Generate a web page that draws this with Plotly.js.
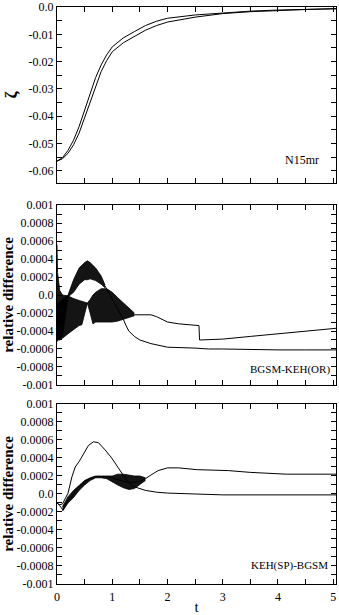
<!DOCTYPE html>
<html>
<head>
<meta charset="utf-8">
<script src="https://cdn.plot.ly/plotly-3.0.1.min.js"></script>
<style>
  html, body { margin: 0; padding: 0; background: #fff; }
  #chart { width: 339px; height: 615px; }
</style>
</head>
<body>
<div id="chart"></div>
<script>
/* ── Panel 1: zeta(t), two runs ─────────────────────────── */
const tZeta   = [0, 0.1, 0.2, 0.3, 0.4, 0.5, 0.6, 0.7, 0.8, 0.9, 1.0, 1.2, 1.4, 1.6, 1.8, 2.0, 2.5, 3.0, 3.5, 4.0, 4.5, 5.05];
const zetaA   = [-0.0565, -0.0552, -0.0525, -0.0488, -0.0438, -0.0376, -0.0315, -0.0258, -0.0212, -0.0175, -0.0146, -0.0113, -0.0090, -0.0068, -0.0052, -0.0041, -0.0029, -0.0021, -0.0015, -0.0011, -0.0008, -0.0006];
const zetaB   = [-0.0565, -0.0556, -0.0536, -0.0505, -0.0462, -0.0406, -0.0345, -0.0286, -0.0236, -0.0196, -0.0164, -0.0131, -0.0108, -0.0085, -0.0068, -0.0055, -0.0037, -0.0024, -0.0017, -0.0012, -0.0009, -0.0006];

/* ── Panel 2: BGSM-KEH(OR) ─────────────────────────────── */
// oscillating parts drawn as envelope bands
const tBandX  = [0, 0.1, 0.2, 0.3, 0.4, 0.5, 0.55, 0.6, 0.7, 0.8, 0.87];
const bandXHi = [-0.0001, -0.00005, 0.0, 0.00017, 0.0003, 0.00036, 0.00038, 0.00036, 0.0003, 0.00021, 0.00011];
const bandXLo = [-0.0005, -0.00045, -0.00002, 0.00003, 0.00012, 0.00017, 0.00017, 0.00018, 0.00016, 0.00012, 0.00008];
const tLineX  = [0.87, 0.94, 1.0, 1.1, 1.2, 1.25, 1.3, 1.4, 1.5, 1.7, 2.0, 2.5, 2.74, 3.0, 3.65, 4.0, 4.5, 5.05];
const lineX   = [0.0001, 0.00002, -0.00005, -0.00015, -0.00027, -0.00034, -0.0004, -0.00046, -0.0005, -0.00054, -0.00058, -0.00059, -0.0006, -0.0006, -0.00061, -0.00061, -0.00061, -0.00061];

const tBandY  = [0, 0.01, 0.05, 0.1, 0.2, 0.3, 0.4, 0.45, 0.5, 0.55, 0.6, 0.65, 0.7, 0.8, 0.9, 1.0, 1.1, 1.2, 1.3, 1.4];
const bandYHi = [0.00056, 0.00025, 0.00005, 0.0, -0.00001, -0.00004, -0.00006, -0.00007, -0.00008, -0.00009, -0.00005, 0.0, 0.00003, 0.00007, 0.00007, 0.00003, -0.00003, -0.00009, -0.00015, -0.0002];
const bandYLo = [-0.00052, -0.0005, -0.0005, -0.00048, -0.00043, -0.00038, -0.00034, -0.00033, -0.0002, -0.00009, -0.0002, -0.00032, -0.0003, -0.0003, -0.0003, -0.0003, -0.00029, -0.00027, -0.00025, -0.00023];
const tLineY  = [1.4, 1.5, 1.6, 1.7, 1.8, 1.9, 2.0, 2.2, 2.4, 2.57, 2.58, 3.0, 3.5, 4.0, 4.5, 5.05];
const lineY   = [-0.00022, -0.00022, -0.00022, -0.00022, -0.00024, -0.00027, -0.0003, -0.00032, -0.00033, -0.00034, -0.0005, -0.00049, -0.00046, -0.00043, -0.0004, -0.00037];

/* ── Panel 3: KEH(SP)-BGSM ─────────────────────────────── */
const tP = [0, 0.05, 0.1, 0.15, 0.2, 0.27, 0.33, 0.4, 0.45, 0.5, 0.57, 0.66, 0.75, 0.87, 0.99, 1.11, 1.23, 1.35, 1.48, 1.6, 1.8, 2.0, 2.5, 3.0, 4.0, 5.05];
const P  = [-0.0001, -0.00012, -0.00011, -0.00005, 0.00001, 0.00019, 0.0003, 0.00036, 0.00041, 0.00046, 0.00054, 0.00058, 0.00057, 0.00049, 0.0004, 0.00029, 0.00018, 0.00009, 0.00006, 0.00004, 0.00002, 0.00001, 0.0, -0.00001, -0.00001, -0.00001];
const tQ = [0, 0.05, 0.11, 0.15, 0.2, 0.27, 0.33, 0.39, 0.45, 0.51, 0.6, 0.69, 0.8, 0.9, 1.0, 1.1, 1.2, 1.3, 1.4, 1.5, 1.6, 1.7, 1.83, 2.0, 2.2, 2.54, 3.1, 3.5, 4.15, 5.05];
const Q  = [-0.0001, -0.00013, -0.00018, -0.00012, -0.00007, -0.00003, 0.00003, 0.00008, 0.00011, 0.00014, 0.00017, 0.00019, 0.00019, 0.00019, 0.00018, 0.00016, 0.00014, 0.00013, 0.00013, 0.00014, 0.00017, 0.00021, 0.00026, 0.00029, 0.00029, 0.00027, 0.00026, 0.00024, 0.00022, 0.00022];
const tQB = [0.1, 0.2, 0.3, 0.4, 0.5, 0.6, 0.7, 0.8, 0.9, 1.0, 1.1, 1.2, 1.3, 1.4, 1.5, 1.6];
const QHi = [-0.00014, -0.00003, 0.00004, 0.0001, 0.00015, 0.00018, 0.0002, 0.0002, 0.0002, 0.0002, 0.00022, 0.00022, 0.00021, 0.0002, 0.0002, 0.00018];
const QLo = [-0.00019, -0.0001, -0.00004, 0.00004, 0.0001, 0.00015, 0.00018, 0.00018, 0.00017, 0.00013, 0.0001, 0.00007, 0.00005, 0.00006, 0.0001, 0.00015];

/* ── Ticks ─────────────────────────────────────────────── */
const xTickVals = [0, 0.5, 1, 1.5, 2, 2.5, 3, 3.5, 4, 4.5, 5];
const xTickText = ['0', '', '1', '', '2', '', '3', '', '4', '', '5'];
const zTickVals = [0, -0.005, -0.01, -0.015, -0.02, -0.025, -0.03, -0.035, -0.04, -0.045, -0.05, -0.055, -0.06];
const zTickText = ['0.0', '', '-0.01', '', '-0.02', '', '-0.03', '', '-0.04', '', '-0.05', '', '-0.06'];
const rTickVals = [0.001, 0.0009, 0.0008, 0.0007, 0.0006, 0.0005, 0.0004, 0.0003, 0.0002, 0.0001, 0, -0.0001, -0.0002, -0.0003, -0.0004, -0.0005, -0.0006, -0.0007, -0.0008, -0.0009, -0.001];
const rTickText = ['0.001', '', '0.0008', '', '0.0006', '', '0.0004', '', '0.0002', '', '0.0', '', '-0.0002', '', '-0.0004', '', '-0.0006', '', '-0.0008', '', '-0.001'];

const SERIF = 'Liberation Serif';
const LINE  = { color: '#000', width: 1 };

function line(x, y, xa, ya) {
  return { x, y, xaxis: xa, yaxis: ya, type: 'scatter', mode: 'lines', line: LINE, hoverinfo: 'skip' };
}
function band(x, hi, lo, xa, ya) {
  return [
    { x, y: hi, xaxis: xa, yaxis: ya, type: 'scatter', mode: 'lines', line: { color: '#000', width: 0.8 }, hoverinfo: 'skip' },
    { x, y: lo, xaxis: xa, yaxis: ya, type: 'scatter', mode: 'lines', line: { color: '#000', width: 0.8 },
      fill: 'tonexty', fillcolor: 'rgba(0,0,0,0.92)', hoverinfo: 'skip' },
  ];
}

const traces = [
  line(tZeta, zetaA, 'x', 'y'),
  line(tZeta, zetaB, 'x', 'y'),
  ...band(tBandX, bandXHi, bandXLo, 'x2', 'y2'),
  line(tLineX, lineX, 'x2', 'y2'),
  ...band(tBandY, bandYHi, bandYLo, 'x2', 'y2'),
  line(tLineY, lineY, 'x2', 'y2'),
  line(tP, P, 'x3', 'y3'),
  line(tQ, Q, 'x3', 'y3'),
  ...band(tQB, QHi, QLo, 'x3', 'y3'),
];

const AX = {
  showline: true, linecolor: '#000', linewidth: 1, mirror: 'ticks',
  ticks: 'inside', ticklen: 5, tickcolor: '#000', tickwidth: 1,
  showgrid: false, zeroline: false, fixedrange: true,
  ticklabeloverflow: 'allow',
  tickfont: { family: SERIF, size: 12, color: '#000' },
};
const xBase = { ...AX, range: [0, 5.05], tickmode: 'array', tickvals: xTickVals, ticktext: xTickText };
const relTitle = { text: '<b>relative difference</b>', font: { family: SERIF, size: 15, color: '#000' }, standoff: 4 };

const layout = {
  width: 339, height: 615,
  margin: { l: 57, r: 3, t: 7, b: 31 },
  paper_bgcolor: '#fff', plot_bgcolor: '#fff',
  showlegend: false,
  font: { family: SERIF, color: '#000' },
  xaxis:  { ...xBase, anchor: 'y',  showticklabels: false },
  xaxis2: { ...xBase, anchor: 'y2', showticklabels: false },
  xaxis3: { ...xBase, anchor: 'y3', ticklabelstandoff: 2,
            title: { text: 't', font: { family: SERIF, size: 15, color: '#000' }, standoff: 0 } },
  yaxis:  { ...AX, domain: [0.695, 1], range: [-0.0645, 0.00002], tickmode: 'array', tickvals: zTickVals, ticktext: zTickText,
            title: { text: '<b>ζ</b>', font: { family: SERIF, size: 17, color: '#000' }, standoff: 6 } },
  yaxis2: { ...AX, domain: [0.3449, 0.6568], range: [-0.001, 0.001], tickmode: 'array', tickvals: rTickVals, ticktext: rTickText,
            title: relTitle },
  yaxis3: { ...AX, domain: [0, 0.312], range: [-0.001, 0.001], tickmode: 'array', tickvals: rTickVals, ticktext: rTickText,
            title: relTitle },
  annotations: [
    { text: 'N15mr', xref: 'x', yref: 'y', x: 4.43, y: -0.0562, showarrow: false,
      font: { family: SERIF, size: 12, color: '#000' } },
    { text: 'BGSM-KEH(OR)', xref: 'x2', yref: 'y2', x: 4.21, y: -0.00083, showarrow: false,
      font: { family: SERIF, size: 11, color: '#000' } },
    { text: 'KEH(SP)-BGSM', xref: 'x3', yref: 'y3', x: 4.21, y: -0.00079, showarrow: false,
      font: { family: SERIF, size: 11, color: '#000' } },
  ],
};

Plotly.newPlot('chart', traces, layout, { staticPlot: true, displayModeBar: false });
</script>
</body>
</html>
